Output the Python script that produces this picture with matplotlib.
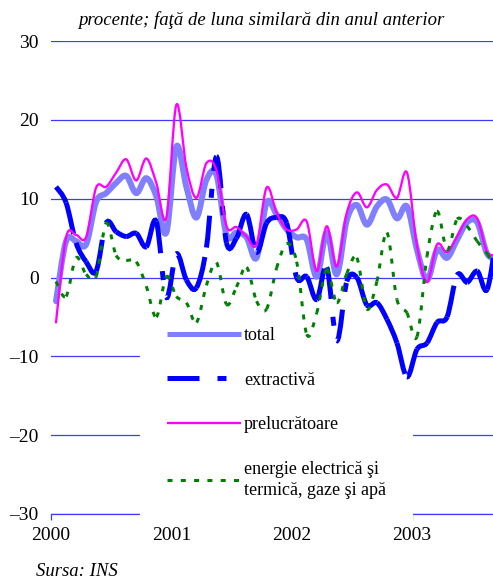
import numpy as np
import matplotlib
matplotlib.use("Agg")
import matplotlib.pyplot as plt
from matplotlib.path import Path
from matplotlib.patches import PathPatch
from matplotlib.lines import Line2D

plt.rcParams['font.family'] = ['Liberation Serif', 'DejaVu Serif']
plt.rcParams['lines.scale_dashes'] = False

# monthly data, Jan 2000 .. Sep 2003 (% change vs same month of previous year)
months = np.arange(45)
total = [-3.0, 4.6, 4.6, 4.2, 9.6, 10.7, 12.0, 12.9, 10.7, 12.6, 10.3, 5.7,
         16.6, 11.5, 7.6, 12.4, 13.0, 5.4, 5.7, 5.1, 2.5, 9.5, 8.0, 6.1,
         5.1, 4.8, 0.1, 5.7, 0.4, 7.3, 9.2, 6.7, 9.0, 9.9, 7.5, 9.0,
         3.5, -0.3, 3.5, 2.5, 4.8, 7.0, 7.0, 3.0, 2.5]
extractiva = [11.5, 9.5, 4.4, 2.0, 0.8, 6.9, 5.8, 5.2, 5.6, 3.9, 7.1, -2.5,
              3.0, -0.3, -1.3, 3.8, 15.3, 4.4, 5.0, 8.0, 3.2, 6.9, 7.6, 6.9,
              0.0, 0.1, -2.8, 1.3, -8.0, -0.5, 0.0, -3.5, -3.2, -5.3, -8.3, -12.6,
              -9.1, -8.3, -5.7, -5.0, 0.3, -0.6, 0.8, -1.5, 6.0]
prelucratoare = [-5.7, 5.1, 5.4, 5.1, 11.4, 11.5, 13.3, 15.0, 12.3, 15.1, 12.0, 7.6,
                 21.9, 14.0, 10.1, 14.5, 13.6, 6.5, 6.4, 5.2, 4.2, 11.4, 8.2, 6.1,
                 6.1, 7.1, 0.8, 6.5, 1.4, 8.2, 10.8, 8.9, 11.1, 11.8, 10.1, 13.3,
                 4.0, -0.6, 4.2, 3.2, 5.2, 7.4, 7.5, 3.2, 3.0]
energie = [-0.5, -2.4, 2.5, 0.4, 0.1, 6.9, 2.8, 2.2, 2.0, -1.1, -5.0, 0.1,
           -2.4, -3.2, -5.7, -1.0, 1.9, -3.4, -1.2, 1.3, -3.0, -4.0, 1.2, 4.3,
           2.0, -7.2, -4.5, 1.0, -3.2, 0.5, 2.5, -4.0, -0.5, 5.7, -2.8, -4.5,
           -7.5, 2.7, 8.4, 3.5, 7.4, 6.5, 4.6, 3.0, 1.0]

labels = ['total', 'extractivă', 'prelucrătoare',
          'energie electrică şi\ntermică, gaze şi apă']
year_ticks = [2000, 2001, 2002, 2003]
y_ticks = [-30, -20, -10, 0, 10, 20, 30]
y_tick_labels = ['–30', '–20', '–10', '0', '10', '20', '30']

PT = 0.72  # points per pixel at dpi 100
GRID = '#3c3cff'


def bezier_segments(x, y):
    # Catmull-Rom style smoothing, one cubic per month interval
    pts = np.column_stack([x, y])
    n = len(pts)
    segs = []
    for i in range(n - 1):
        p0 = pts[max(i - 1, 0)]
        p1 = pts[i]
        p2 = pts[i + 1]
        p3 = pts[min(i + 2, n - 1)]
        segs.append([p1, p1 + (p2 - p0) / 6, p2 - (p3 - p1) / 6, p2])
    return segs


def draw_series(ax, x, y, color, lw, dashes=None, z=3):
    segs = bezier_segments(x, y)
    if dashes is None:
        verts = [segs[0][0]]
        codes = [Path.MOVETO]
        for s in segs:
            verts += s[1:]
            codes += [Path.CURVE4] * 3
        ax.add_patch(PathPatch(Path(verts, codes), fill=False, edgecolor=color,
                               lw=lw, joinstyle='round', capstyle='round', zorder=z))
    else:
        # dash pattern restarts on every segment
        for s in segs:
            ax.add_patch(PathPatch(Path(s, [Path.MOVETO] + [Path.CURVE4] * 3),
                                   fill=False, edgecolor=color, lw=lw,
                                   linestyle=(0, dashes), capstyle='butt', zorder=z))


fig = plt.figure(figsize=(4.93, 5.79), dpi=100)
ax = fig.add_axes([51 / 493, 1 - 514 / 579, 1 - 51 / 493, 473 / 579])

x = 2000 + (months + 0.5) / 12

styles = [
    (total, '#8080ff', 6 * PT, None),
    (extractiva, '#0000ff', 5 * PT, (32 * PT, 18 * PT, 9 * PT, 18 * PT)),
    (prelucratoare, '#ff00ff', 2.3 * PT, None),
    (energie, '#008000', 3 * PT, (5 * PT, 8.3 * PT)),
]
handles = []
for i, (vals, col, lw, dash) in enumerate(styles):
    draw_series(ax, x, np.array(vals), col, lw, dash, z=3 + i * 0.1)
    if dash is None:
        handles.append(Line2D([], [], color=col, lw=lw if i else 5 * PT,
                              solid_capstyle='butt'))
    else:
        handles.append(Line2D([], [], color=col, lw=lw, linestyle=(0, dash),
                              dash_capstyle='butt'))

ax.set_xlim(2000, 2000 + 442 / 120.33)
ax.set_ylim(-30, 30)
ax.set_yticks(y_ticks)
ax.set_yticklabels(y_tick_labels)
ax.set_xticks(year_ticks)
ax.set_xticklabels([str(t) for t in year_ticks])
ax.yaxis.grid(True, color=GRID, lw=0.9)
ax.set_axisbelow(True)
for s in ['left', 'right', 'top']:
    ax.spines[s].set_visible(False)
ax.spines['bottom'].set_color(GRID)
ax.spines['bottom'].set_linewidth(0.9)
ax.tick_params(axis='y', length=0, pad=9, labelsize=14)
ax.tick_params(axis='x', length=6 * PT, width=0.9, color=GRID, direction='out',
               pad=5, labelsize=14)
ax.patch.set_visible(False)

leg = ax.legend(handles, labels, loc='upper left',
                bbox_to_anchor=(140 / 493, 1 - 300 / 579),
                bbox_transform=fig.transFigure, fontsize=13,
                frameon=True, fancybox=False, framealpha=1, facecolor='white',
                edgecolor='none', borderpad=1.5, labelspacing=1.53,
                handlelength=4.1, handletextpad=0.15, borderaxespad=0)
for t in leg.get_texts():
    t.set_linespacing(1.32)
leg.set_zorder(2.5)

fig.text(261 / 493, 1 - 20 / 579, 'procente; faţă de luna similară din anul anterior',
         style='italic', ha='center', va='center', fontsize=13.5)
fig.text(36 / 493, 1 - 572 / 579, 'Sursa: INS', style='italic', ha='left',
         va='center', fontsize=13.5)

fig.savefig('out.png', dpi=100)
